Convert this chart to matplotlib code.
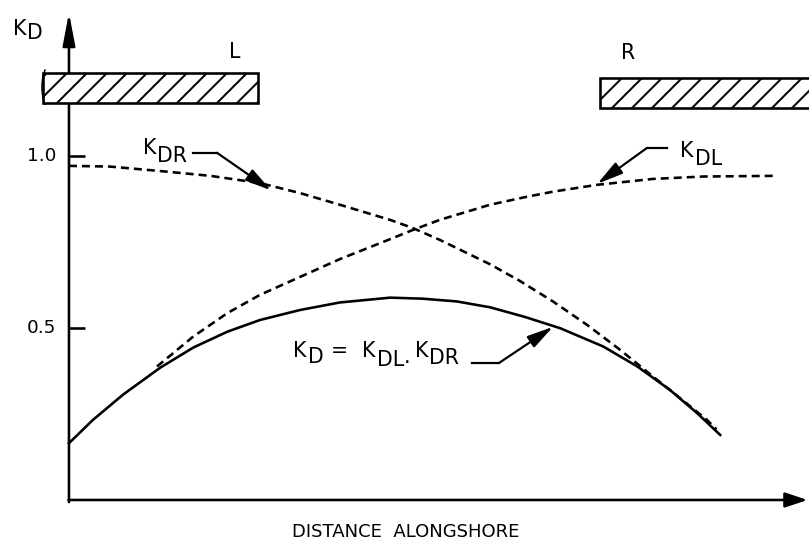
import matplotlib
matplotlib.use('Agg')
import matplotlib.pyplot as plt
from matplotlib import patches
from matplotlib.transforms import offset_copy

# ---------------- data ----------------
# K_DR : diffraction coefficient due to right breakwater (dashed, decreasing)
x_kdr = [0.0, 0.55, 1.23, 1.91, 2.58, 3.12, 3.66, 4.34, 4.65, 5.01, 5.69, 6.09,
         6.54, 7.00, 7.45, 7.89, 8.12, 8.62, 8.75]
k_dr = [0.971, 0.969, 0.956, 0.942, 0.921, 0.892, 0.858, 0.814, 0.790, 0.756,
        0.685, 0.637, 0.577, 0.509, 0.436, 0.359, 0.320, 0.233, 0.205]

# K_DL : diffraction coefficient due to left breakwater (dashed, increasing)
x_kdl = [1.19, 1.68, 2.14, 2.58, 3.12, 3.66, 4.34, 4.65, 5.01, 5.69, 6.16,
         6.54, 7.14, 7.89, 8.57, 9.54]
k_dl = [0.388, 0.475, 0.543, 0.596, 0.648, 0.700, 0.758, 0.785, 0.814, 0.858,
        0.880, 0.896, 0.916, 0.933, 0.940, 0.942]

# K_D = K_DL * K_DR (solid)
x_kd = [0.0, 0.32, 0.73, 1.23, 1.68, 2.14, 2.58, 3.12, 3.66, 4.34, 4.78, 5.24,
        5.69, 6.16, 6.64, 7.22, 7.68, 8.12, 8.49, 8.80]
k_d = [0.165, 0.232, 0.306, 0.384, 0.443, 0.489, 0.523, 0.552, 0.574, 0.588,
       0.585, 0.577, 0.560, 0.532, 0.499, 0.446, 0.388, 0.320, 0.252, 0.189]

y_ticks = [0.5, 1.0]
y_tick_labels = ['0.5', '1.0']
x_label = 'DISTANCE  ALONGSHORE'

# ---------------- setup ----------------
DPI = 120
W, H = 809, 543


def P(px):
    """pixels -> points at the figure dpi"""
    return px * 72.0 / DPI


plt.rcParams['font.family'] = ['DejaVu Sans']
plt.rcParams['lines.scale_dashes'] = False
plt.rcParams['hatch.linewidth'] = P(2.0)

fig = plt.figure(figsize=(W / DPI, H / DPI), dpi=DPI)
ax = fig.add_axes([0, 0, 1, 1])
ax.set_xlim(-0.932, 10.0)
ax.set_ylim(-0.125, 1.453)
ax.axis('off')

LW = P(2.6)
FS_K = P(20.5)
FS_TICK = P(18.5)
FS_X = P(18.0)

# axes with arrows
ax.annotate('', xy=(0, 1.416), xytext=(0, -0.006),
            arrowprops=dict(arrowstyle='-|>,head_length=1.05,head_width=0.2',
                            mutation_scale=P(26), lw=LW, color='black',
                            shrinkA=0, shrinkB=0), zorder=2)
ax.annotate('', xy=(9.98, 0.0), xytext=(-0.006, 0.0),
            arrowprops=dict(arrowstyle='-|>,head_length=0.9,head_width=0.3',
                            mutation_scale=P(21), lw=LW, color='black',
                            shrinkA=0, shrinkB=0), zorder=2)

# ticks
for t, lab in zip(y_ticks, y_tick_labels):
    ax.plot([0, 0.21], [t, t], color='black', lw=LW, solid_capstyle='butt')
    ax.text(-0.17, t, lab, ha='right', va='center', fontsize=FS_TICK)

renderer = fig.canvas.get_renderer()


def rich(x, y, pieces, fs):
    """draw text pieces left to right; pieces = (text, dropped_px, gap_px)"""
    off = 0.0
    for s, drop, gap in pieces:
        off += gap
        tr = offset_copy(ax.transData, fig=fig, x=off, y=-drop, units='dots')
        t = ax.text(x, y, s, transform=tr, fontsize=fs, ha='left',
                    va='baseline', zorder=6)
        off += t.get_window_extent(renderer).width


# y-axis label
rich(-0.757, 1.352, [('K', 0, 0), ('D', 4, 0.5)], FS_K)

# breakwaters (hatched)
ax.add_patch(patches.Rectangle((-0.35, 1.154), 2.9, 0.087, facecolor='white',
                               edgecolor='black', hatch='//', lw=LW, zorder=4))
ax.add_patch(patches.Rectangle((7.18, 1.14), 3.2, 0.087, facecolor='white',
                               edgecolor='black', hatch='//', lw=LW, zorder=4))
ax.add_patch(patches.Arc((-0.23, 1.2), 0.27, 0.137, theta1=150, theta2=210,
                         lw=P(1.5), color='black', zorder=5))
ax.text(2.24, 1.302, 'L', ha='center', va='center', fontsize=FS_K)
ax.text(7.56, 1.30, 'R', ha='center', va='center', fontsize=FS_K)

# curves
dash = (0, (P(8), P(5)))
ax.plot(x_kdr, k_dr, color='black', lw=LW, linestyle=dash, zorder=3)
ax.plot(x_kdl, k_dl, color='black', lw=LW, linestyle=dash, zorder=3)
ax.plot(x_kd, k_d, color='black', lw=LW, zorder=3, solid_joinstyle='round')

# annotations
arr = dict(arrowstyle='-|>,head_length=1.1,head_width=0.28',
           mutation_scale=P(20), lw=P(2.2), color='black', shrinkA=0, shrinkB=0)
LLW = P(2.2)

rich(1.0, 1.006, [('K', 0, 0), ('DR', 8, 1)], FS_K)
ax.plot([1.68, 2.0], [1.009, 1.009], color='black', lw=LLW)
ax.annotate('', xy=(2.73, 0.90), xytext=(2.0, 1.009), arrowprops=arr)

rich(8.26, 0.997, [('K', 0, 0), ('DL', 8, 1)], FS_K)
ax.plot([7.81, 8.08], [1.023, 1.023], color='black', lw=LLW)
ax.annotate('', xy=(7.14, 0.919), xytext=(7.81, 1.023), arrowprops=arr)

rich(3.03, 0.416, [('K', 0, 0), ('D', 6, 1), ('=', 0, 8), ('K', 0, 14),
                   ('DL', 9, 1), ('.', 6, 0), ('K', 0, 4), ('DR', 7, 1)], FS_K)
ax.plot([5.45, 5.81], [0.398, 0.398], color='black', lw=LLW)
ax.annotate('', xy=(6.54, 0.503), xytext=(5.81, 0.398), arrowprops=arr)

ax.text(4.55, -0.093, x_label, ha='center', va='center', fontsize=FS_X)

fig.savefig('out.png', dpi=DPI)
